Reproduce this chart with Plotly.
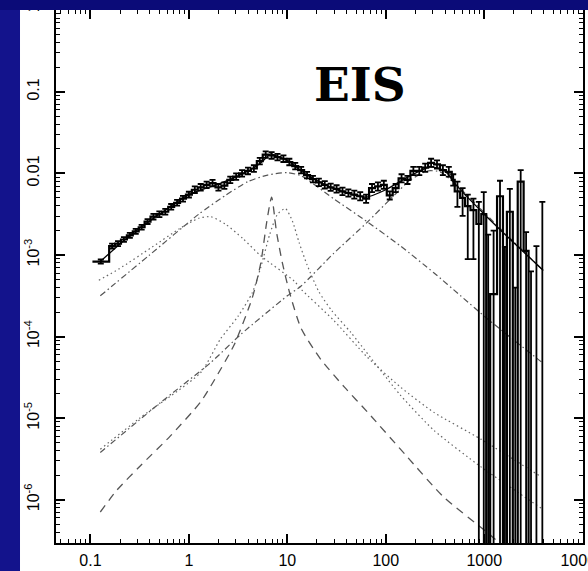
import numpy as np
import plotly.graph_objects as go

# ---- observed spectrum: histogram bins (log10 of bin edges) and log10 values ----
low_edges = [-0.98, -0.81, -0.75, -0.69, -0.63, -0.57, -0.51, -0.45, -0.39, -0.33,
             -0.27, -0.21, -0.15, -0.09, -0.03, 0.03, 0.09, 0.15, 0.21, 0.27,
             0.33, 0.39, 0.45, 0.51, 0.57, 0.63, 0.69, 0.75, 0.81, 0.87,
             0.93, 0.99, 1.05, 1.11, 1.17, 1.23, 1.29, 1.35, 1.41, 1.47,
             1.53, 1.59, 1.65, 1.71, 1.77, 1.83, 1.89, 1.95, 2.01, 2.07,
             2.13, 2.19, 2.25, 2.31, 2.37, 2.43, 2.49, 2.55, 2.61, 2.67, 2.70]
low_vals = [-3.08, -2.89, -2.86, -2.81, -2.76, -2.71, -2.66, -2.59, -2.53, -2.50,
            -2.47, -2.41, -2.36, -2.31, -2.26, -2.20, -2.17, -2.14, -2.12, -2.17,
            -2.15, -2.08, -2.04, -2.00, -1.97, -1.94, -1.85, -1.77, -1.78, -1.80,
            -1.82, -1.86, -1.91, -1.96, -2.02, -2.07, -2.11, -2.14, -2.17, -2.19,
            -2.22, -2.24, -2.26, -2.28, -2.31, -2.18, -2.16, -2.14, -2.27, -2.18,
            -2.06, -2.08, -1.97, -1.97, -1.93, -1.87, -1.89, -1.96, -1.98, -2.08]
low_err = [0.025, 0.03, 0.03, 0.03, 0.03, 0.03, 0.03, 0.03, 0.035, 0.035,
           0.035, 0.035, 0.035, 0.035, 0.035, 0.04, 0.04, 0.04, 0.04, 0.04,
           0.04, 0.04, 0.04, 0.04, 0.04, 0.04, 0.04, 0.04, 0.04, 0.04,
           0.04, 0.04, 0.04, 0.04, 0.04, 0.04, 0.045, 0.045, 0.045, 0.045,
           0.045, 0.045, 0.05, 0.05, 0.05, 0.05, 0.05, 0.05, 0.05, 0.05,
           0.05, 0.05, 0.05, 0.05, 0.05, 0.05, 0.05, 0.06, 0.06, 0.07]

# high-frequency end: noisy bins, many consistent with zero
high_edges = [2.70, 2.755, 2.805, 2.86, 2.92, 2.97, 3.02, 3.06, 3.13, 3.19,
              3.23, 3.29, 3.34, 3.40, 3.45, 3.50, 3.56, 3.62]
high_vals = [-2.22, -2.30, -2.40, -2.45, -2.62, -2.50, -7.5, -3.48, -2.28, -7.5,
             -2.47, -7.5, -2.10, -2.95, -7.5, -7.5, -7.5]
high_up = [-2.10, -2.18, -2.26, -2.31, -2.35, -2.23, -2.75, -2.70, -2.09, -2.90,
           -2.19, -3.40, -1.96, -2.72, -3.20, -2.89, -2.35]
high_lo = [-2.41, -2.52, -3.05, -3.05, -9.0, -9.0, -7.5, -9.0, -9.0, -7.5,
           -9.0, -7.5, -9.0, -9.0, -7.5, -7.5, -7.5]

# ---- model components (log10 x, log10 y) ----
total_x = [-0.90, -0.60, -0.30, 0.00, 0.30, 0.50, 0.66, 0.75, 0.83, 0.90, 1.00,
           1.20, 1.50, 1.80, 2.00, 2.20, 2.45, 2.60, 2.72, 3.00, 3.30, 3.60]
total_y = [-3.08, -2.76, -2.50, -2.26, -2.13, -2.03, -1.93, -1.85, -1.76, -1.79, -1.84,
           -2.02, -2.20, -2.29, -2.20, -2.06, -1.92, -1.97, -2.15, -2.50, -2.85, -3.19]

broad_x = [-0.90, -0.40, 0.10, 0.37, 0.60, 0.80, 1.00, 1.14, 1.47, 1.82, 2.15,
           2.49, 2.76, 3.04, 3.58]
broad_y = [-3.50, -3.00, -2.50, -2.27, -2.10, -2.02, -1.99, -2.03, -2.31, -2.60, -2.89,
           -3.22, -3.50, -3.79, -4.31]

soft_x = [-0.915, -0.71, -0.37, -0.10, 0.10, 0.22, 0.37, 0.55, 0.73, 1.07, 1.14,
          1.47, 1.81, 2.15, 2.49, 2.97, 3.58]
soft_y = [-3.31, -3.17, -2.90, -2.68, -2.55, -2.53, -2.62, -2.80, -3.01, -3.32, -3.42,
          -3.80, -4.25, -4.62, -4.93, -5.26, -5.72]

mid_x = [-0.90, -0.50, 0.12, 0.32, 0.50, 0.645, 0.73, 0.82, 0.90, 0.98, 1.05,
         1.12, 1.20, 1.32, 1.45, 1.645, 2.15, 2.49, 2.97, 3.60]
mid_y = [-5.38, -5.00, -4.44, -4.03, -3.75, -3.46, -3.15, -2.75, -2.50, -2.43, -2.58,
         -2.85, -3.12, -3.45, -3.68, -3.95, -4.72, -5.15, -5.60, -6.12]

qpo_x = [-0.90, -0.73, -0.49, -0.19, 0.12, 0.25, 0.46, 0.645, 0.73, 0.79, 0.84,
         0.89, 0.95, 1.02, 1.14, 1.34, 1.58, 1.81, 2.20, 2.59, 3.07, 3.30]
qpo_y = [-6.15, -5.88, -5.58, -5.22, -4.80, -4.55, -4.10, -3.52, -3.10, -2.60, -2.29,
         -2.72, -3.10, -3.45, -3.90, -4.28, -4.62, -4.92, -5.45, -5.97, -6.44, -6.70]

hump_x = [-0.90, -0.29, 0.22, 0.53, 1.00, 1.14, 1.47, 1.81, 2.05, 2.25, 2.42,
          2.55, 2.70, 3.00, 3.30, 3.60]
hump_y = [-5.42, -4.81, -4.32, -3.97, -3.50, -3.38, -2.98, -2.60, -2.31, -2.08, -1.97,
          -1.98, -2.12, -2.48, -2.84, -3.19]

x_ticks = [0.1, 1, 10, 100, 1000, 10000]
x_labels = ["0.1", "1", "10", "100", "1000", "10000"]
y_ticks = [1, 0.1, 0.01, 1e-3, 1e-4, 1e-5, 1e-6]
y_labels = ["1", "0.1", "0.01", "10<sup>-3</sup>", "10<sup>-4</sup>",
            "10<sup>-5</sup>", "10<sup>-6</sup>"]

# ---- assemble histogram ----
edges = np.array(low_edges + high_edges[1:])
vals = np.array(low_vals + high_vals)
xe = 10 ** edges
ye = 10 ** np.append(vals, vals[-1])

centers_lo = 10 ** ((np.array(low_edges[:-1]) + np.array(low_edges[1:])) / 2)
lv = np.array(low_vals)
le = np.array(low_err)
y_lo_pts = 10 ** lv
up_lo = 10 ** (lv + le) - y_lo_pts
dn_lo = y_lo_pts - 10 ** (lv - le)

centers_hi = 10 ** ((np.array(high_edges[:-1]) + np.array(high_edges[1:])) / 2)
hv = np.array(high_vals)
y_hi_pts = 10 ** hv
up_hi = 10 ** np.array(high_up) - y_hi_pts
dn_hi = y_hi_pts - 10 ** np.array(high_lo)

fig = go.Figure()

model_style = [
    (broad_x, broad_y, "#555555", "6px,3px,1.5px,3px", 1.2),
    (soft_x, soft_y, "#666666", "1.5px,3px", 1.2),
    (mid_x, mid_y, "#666666", "1.5px,3px", 1.2),
    (qpo_x, qpo_y, "#555555", "8px,6px", 1.3),
    (hump_x, hump_y, "#555555", "6px,3px,1.5px,3px", 1.2),
]
for mx, my, col, dash, w in model_style:
    fig.add_trace(go.Scatter(
        x=10 ** np.array(mx), y=10 ** np.array(my), mode="lines",
        line=dict(color=col, width=w, dash=dash, shape="spline", smoothing=0.6),
        hoverinfo="skip", showlegend=False))

# total model
fig.add_trace(go.Scatter(
    x=10 ** np.array(total_x), y=10 ** np.array(total_y), mode="lines",
    line=dict(color="black", width=1.3, shape="spline", smoothing=0.6),
    hoverinfo="skip", showlegend=False))

# data histogram
fig.add_trace(go.Scatter(
    x=xe, y=ye, mode="lines", line=dict(color="black", width=2.2, shape="hv"),
    hoverinfo="skip", showlegend=False))

# error bars
fig.add_trace(go.Scatter(
    x=np.concatenate([centers_lo, centers_hi]),
    y=np.concatenate([y_lo_pts, y_hi_pts]),
    mode="markers", marker=dict(size=1, color="black"),
    error_y=dict(type="data", symmetric=False,
                 array=np.concatenate([up_lo, up_hi]),
                 arrayminus=np.concatenate([dn_lo, dn_hi]),
                 color="black", thickness=1.8, width=3),
    hoverinfo="skip", showlegend=False))

tick_font = dict(family="Liberation Sans, Arial, sans-serif", size=16, color="black")
axis_common = dict(
    type="log", showline=True, linecolor="black", linewidth=1.5,
    mirror="allticks", ticks="inside", ticklen=9, tickwidth=1.5, tickcolor="black",
    showgrid=False, zeroline=False, tickmode="array", tickfont=tick_font,
    ticklabeloverflow="allow", automargin=False,
    minor=dict(ticks="inside", ticklen=4.5, tickwidth=1.2, tickcolor="black",
               dtick="D1", showgrid=False),
)

fig.update_layout(
    width=588, height=571,
    margin=dict(l=56, r=5, t=10, b=28),
    paper_bgcolor="white", plot_bgcolor="white",
    xaxis=dict(range=[-1.35, 4.003], tickvals=x_ticks, ticktext=x_labels,
               ticklabelstandoff=2, **axis_common),
    yaxis=dict(range=[-6.53, 0.003], tickvals=y_ticks, ticktext=y_labels,
               tickangle=-90, ticklabelstandoff=9, **axis_common),
    annotations=[dict(
        text="<b>EIS</b>", x=0.577, y=0.86, xref="paper", yref="paper",
        showarrow=False, xanchor="center", yanchor="middle",
        font=dict(family="DejaVu Serif, Liberation Serif, serif", size=47, color="black"))],
    shapes=[
        dict(type="rect", xref="paper", yref="paper", x0=-0.12, x1=-0.0683,
             y0=-0.07, y1=1.03, fillcolor="#13138c", line=dict(width=0), layer="above"),
        dict(type="rect", xref="paper", yref="paper", x0=-0.12, x1=1.03,
             y0=1.0, y1=1.03, fillcolor="#0b0b78", line=dict(width=0), layer="above"),
    ],
)

fig.write_html("out.html")
